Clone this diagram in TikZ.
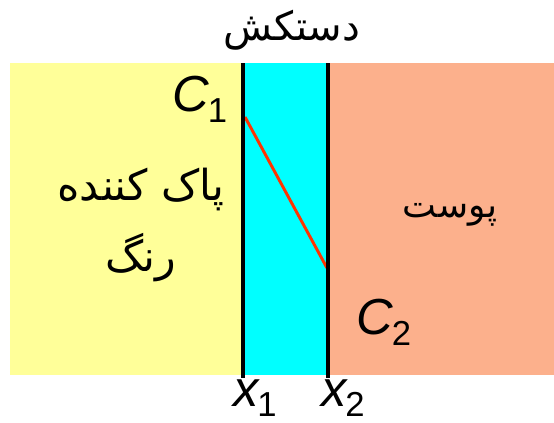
\documentclass[tikz,border=0pt]{standalone}
\usepackage{fontspec}
\setmainfont{Liberation Sans}
\newfontfamily\arabicfont[Script=Arabic]{DejaVu Sans}
\TeXXeTstate=1
\usepackage{xcolor}
\definecolor{cleanerbg}{HTML}{FFFF99}
\definecolor{glovebg}{HTML}{00FFFF}
\definecolor{skinbg}{HTML}{FCB08C}
\definecolor{profile}{HTML}{FF3300}
\newcommand{\conclabel}[2]{#1\kern-1pt\textup{\fontsize{26}{28}\selectfont\raisebox{-8pt}{#2}}}
\begin{document}
\begin{tikzpicture}[
        x=0.75pt, y=-0.75pt,
        wall/.style={line width=3pt, black},
        conc/.style={font=\fontsize{38}{40}\selectfont\itshape},
        lbl/.style={font=\arabicfont\fontsize{27}{30}\selectfont, align=center}
      ]
        \useasboundingbox (0,0) rectangle (554,422);
        \fill[cleanerbg] (10,63) rectangle (243,375);
        \fill[glovebg] (243,63) rectangle (328,375);
        \fill[skinbg] (328,63) rectangle (554,375);
        \coordinate (w1top) at (243,63);
        \coordinate (w1bot) at (243,378);
        \coordinate (w2top) at (328,63);
        \coordinate (w2bot) at (328,378);
        \coordinate (c1) at (245,117);
        \coordinate (c2) at (327,268);
        \draw[line width=2.2pt, profile] (c1) -- (c2);
        \draw[wall] (w1top) -- (w1bot);
        \draw[wall] (w2top) -- (w2bot);
        \node[lbl, font=\arabicfont\fontsize{30}{32}\selectfont] (glove) at (292,30) {\beginR دستکش\endR};
        \node[lbl, font=\arabicfont\fontsize{32}{34}\selectfont] (cleaner) at (141,225) {\beginR پاک کننده\endR\\[16pt]\beginR رنگ\endR};
        \node[lbl] (skin) at (450,215) {\beginR پوست\endR};
        \node[conc] (C1) at (200,99) {\conclabel{C}{1}};
        \node[conc] (C2) at (384,322) {\conclabel{C}{2}};
        \node[conc] (x1) at (255,398) {\conclabel{x}{1}};
        \node[conc] (x2) at (343,398) {\conclabel{x}{2}};
      \end{tikzpicture}
\end{document}
